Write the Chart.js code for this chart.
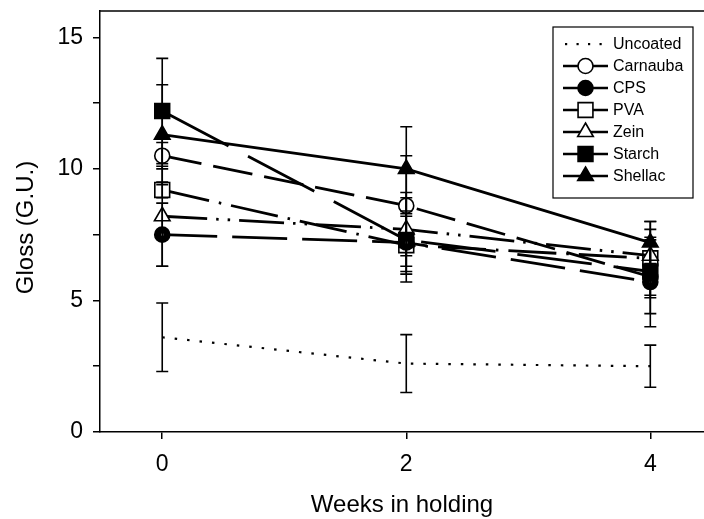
<!DOCTYPE html>
<html><head><meta charset="utf-8">
<script src="https://cdn.jsdelivr.net/npm/chart.js@4/dist/chart.umd.min.js"></script>
<style>html,body{margin:0;padding:0;background:#fff;} #wrap{width:704px;height:519px;position:relative;}</style>
</head><body><div id="wrap"><canvas id="c" width="704" height="519"></canvas></div>
<script>
// ---- data ----
const weeks = [0, 2, 4];
const seriesNames = ['Uncoated', 'Carnauba', 'CPS', 'PVA', 'Zein', 'Starch', 'Shellac'];
const uncoated = [3.6, 2.6, 2.5];
const carnauba = [10.5, 8.6, 5.9];
const cps = [7.5, 7.2, 5.7];
const pva = [9.2, 7.1, 6.6];
const zein = [8.2, 7.7, 6.7];
const starch = [12.2, 7.3, 6.1];
const shellac = [11.3, 10.0, 7.2];
const uncoatedErr = [1.3, 1.1, 0.8];
const carnaubaErr = [0.5, 1.9, 1.4];
const cpsErr = [1.2, 1.1, 1.7];
const pvaErr = [0.3, 1.1, 1.4];
const zeinErr = [1.9, 1.4, 1.0];
const starchErr = [2.0, 1.6, 1.0];
const shellacErr = [1.9, 1.6, 0.8];
const yTickValues = [0, 2.5, 5, 7.5, 10, 12.5, 15];
const xTickValues = [0, 2, 4];
const xTitle = 'Weeks in holding';
const yTitle = 'Gloss (G.U.)';

const values = [uncoated, carnauba, cps, pva, zein, starch, shellac];
const errors = [uncoatedErr, carnaubaErr, cpsErr, pvaErr, zeinErr, starchErr, shellacErr];
// drawing order (higher = drawn first / underneath)
const drawOrder = [1, 7, 4, 6, 5, 3, 2];
const styles = [
  {dash: [2.5, 10], ps: 'circle', r: 0, fill: '#000'},
  {dash: [40, 12], ps: 'circle', r: 7.5, fill: '#fff'},
  {dash: [55, 15], ps: 'circle', r: 7.5, fill: '#000'},
  {dash: [48, 10, 2.5, 10], ps: 'rect', r: 10.5, fill: '#fff'},
  {dash: [45, 9, 2.5, 9, 2.5, 9], ps: 'triangle', r: 9, fill: '#fff'},
  {dash: [75, 22], ps: 'rect', r: 10.5, fill: '#000'},
  {dash: [], ps: 'triangle', r: 9, fill: '#000'}
];

const datasets = seriesNames.map((name, i) => ({
  label: name,
  order: drawOrder[i],
  data: weeks.map((w, j) => ({x: w, y: values[i][j]})),
  borderColor: '#000',
  borderWidth: i === 0 ? 2.2 : 2.8,
  borderDash: styles[i].dash,
  borderCapStyle: 'butt',
  pointStyle: styles[i].ps,
  pointRadius: styles[i].r,
  pointBackgroundColor: styles[i].fill,
  pointBorderColor: '#000',
  pointBorderWidth: 1.6,
  tension: 0,
  fill: false,
  clip: false
}));

const FONT = '"Liberation Sans", Arial, sans-serif';
const AREA = {left: 100, top: 11, right: 704, bottom: 432};

const decor = {
  id: 'decor',
  afterDatasetsDraw(chart) {
    const ctx = chart.ctx, ys = chart.scales.y;
    ctx.save();
    ctx.strokeStyle = '#000';
    ctx.lineWidth = 1.6;
    ctx.setLineDash([]);
    chart.data.datasets.forEach((ds, i) => {
      const meta = chart.getDatasetMeta(i);
      meta.data.forEach((pt, j) => {
        const v = values[i][j], e = errors[i][j];
        const yt = ys.getPixelForValue(v + e), yb = ys.getPixelForValue(v - e);
        ctx.beginPath();
        ctx.moveTo(pt.x, yt); ctx.lineTo(pt.x, yb);
        ctx.moveTo(pt.x - 6, yt); ctx.lineTo(pt.x + 6, yt);
        ctx.moveTo(pt.x - 6, yb); ctx.lineTo(pt.x + 6, yb);
        ctx.stroke();
      });
      if (i === 2) {
        ctx.fillStyle = '#fff';
        meta.data.forEach(pt => { ctx.fillRect(pt.x - 1, pt.y - 1, 2, 2); });
      }
    });
    ctx.restore();
  },
  afterDraw(chart) {
    const ctx = chart.ctx, a = chart.chartArea;
    ctx.save();
    ctx.strokeStyle = '#000'; ctx.lineWidth = 1.5;
    ctx.beginPath(); ctx.moveTo(a.left, a.top); ctx.lineTo(a.right, a.top); ctx.stroke();
    ctx.fillStyle = '#000';
    ctx.font = '24px ' + FONT;
    ctx.textAlign = 'center'; ctx.textBaseline = 'middle';
    ctx.fillText(xTitle, (a.left + a.right) / 2, 505);
    ctx.save();
    ctx.translate(26, (a.top + a.bottom) / 2 + 6);
    ctx.rotate(-Math.PI / 2);
    ctx.fillText(yTitle, 0, 0);
    ctx.restore();
    const bx = 553, by = 27, bw = 140, bh = 171;
    ctx.fillStyle = '#fff';
    ctx.fillRect(bx, by, bw, bh);
    ctx.lineWidth = 1.2; ctx.strokeStyle = '#000';
    ctx.strokeRect(bx, by, bw, bh);
    ctx.font = '16px ' + FONT;
    ctx.textAlign = 'left'; ctx.textBaseline = 'middle';
    chart.data.datasets.forEach((ds, i) => {
      const y = by + 17 + i * 22;
      const x0 = 563, x1 = 608, xm = 585.5;
      ctx.strokeStyle = '#000';
      if (i === 0) {
        ctx.fillStyle = '#000';
        for (let k = 0; k < 4; k++) ctx.fillRect(x0 + 2 + k * 11.5, y - 1, 2.2, 2.2);
      } else {
        ctx.lineWidth = 2.6; ctx.setLineDash([]);
        ctx.beginPath(); ctx.moveTo(x0, y); ctx.lineTo(x1, y); ctx.stroke();
        ctx.lineWidth = 1.6;
        ctx.fillStyle = styles[i].fill;
        Chart.helpers.drawPoint(ctx, {pointStyle: styles[i].ps, radius: styles[i].r, rotation: 0, borderWidth: 1.6}, xm, y);
      }
      ctx.fillStyle = '#000';
      ctx.fillText(ds.label, 613, y + 1);
    });
    ctx.restore();
  }
};

const chart = new Chart(document.getElementById('c'), {
  type: 'line',
  data: {datasets},
  options: {
    responsive: false,
    animation: false,
    devicePixelRatio: 1,
    layout: {autoPadding: false, padding: {top: AREA.top, right: 0, left: 0, bottom: 0}},
    plugins: {legend: {display: false}, tooltip: {enabled: false}},
    scales: {
      x: {
        type: 'linear', min: -0.51, max: 4.44,
        afterFit(s) { s.height = 519 - AREA.bottom; s.paddingLeft = 0; s.paddingRight = 0; },
        afterBuildTicks(s) { s.ticks = xTickValues.map(v => ({value: v})); },
        grid: {display: true, drawOnChartArea: false, drawTicks: true, tickLength: 7, color: '#000', lineWidth: 1.5},
        border: {display: true, color: '#000', width: 1.5},
        ticks: {color: '#000', font: {family: FONT, size: 23}, padding: 12, maxRotation: 0}
      },
      y: {
        type: 'linear', min: 0, max: 16,
        afterFit(s) { s.width = AREA.left; s.paddingTop = 0; s.paddingBottom = 0; },
        afterBuildTicks(s) { s.ticks = yTickValues.map(v => ({value: v})); },
        grid: {display: true, drawOnChartArea: false, drawTicks: true, tickLength: 7, color: '#000', lineWidth: 1.5},
        border: {display: true, color: '#000', width: 1.5},
        ticks: {color: '#000', font: {family: FONT, size: 23}, padding: 10,
          callback: v => (v % 5 === 0 ? String(v) : '')}
      }
    }
  },
  plugins: [decor]
});

// correct any residual automatic padding so the plot area matches the reference
(function fixArea() {
  const a = chart.chartArea, p = chart.options.layout.padding;
  const dTop = a.top - AREA.top, dBottom = AREA.bottom - a.bottom, dRight = AREA.right - a.right;
  if (Math.abs(dTop) > 0.5 || Math.abs(dBottom) > 0.5 || Math.abs(dRight) > 0.5) {
    p.top -= dTop; p.bottom -= dBottom; p.right -= dRight;
    chart.update();
  }
})();
</script>
</body></html>
